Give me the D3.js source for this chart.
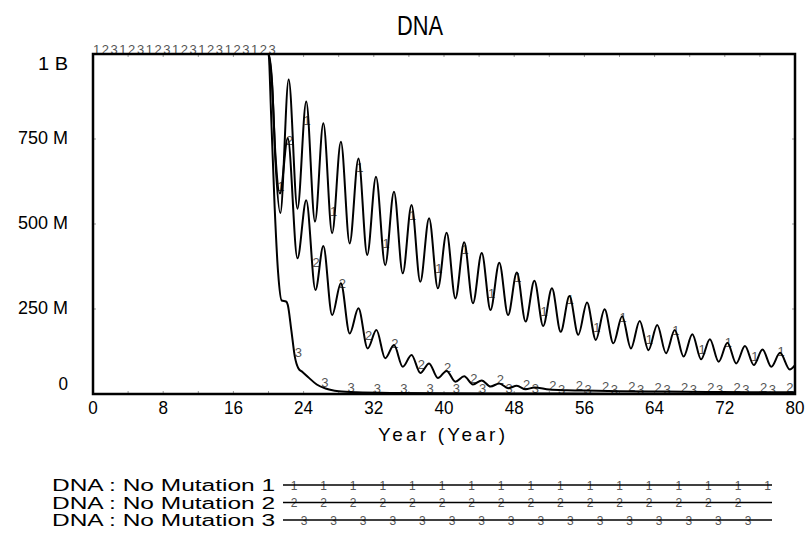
<!DOCTYPE html>
<html>
<head>
<meta charset="utf-8">
<script src="https://cdn.jsdelivr.net/npm/d3@7/dist/d3.min.js"></script>
<style>
  body { margin: 0; background: #fff; }
  text { font-family: "Liberation Sans", Arial, sans-serif; fill: #000; }
</style>
</head>
<body>
<div id="chart"></div>
<script>
// values are in millions
var years1 = [0, 20, 20.4, 20.8, 21.35, 22.3, 23.3, 24.3, 25.3, 26.25, 27.25, 28.25, 29.25, 30.25, 31.25, 32.25,
  33.3, 34.3, 35.3, 36.3, 37.3, 38.3, 39.3, 40.3, 41.3, 42.3, 43.3, 44.3, 45.3, 46.3, 47.3, 48.3, 49.3, 50.3,
  51.3, 52.3, 53.3, 54.3, 55.3, 56.3, 57.3, 58.3, 59.3, 60.3, 61.3, 62.3, 63.3, 64.3, 65.3, 66.3, 67.3, 68.3,
  69.3, 70.3, 71.3, 72.3, 73.3, 74.3, 75.3, 76.3, 77.3, 78.3, 79.4, 80];
var dna1 = [1000, 1000, 920, 680, 532, 925, 545, 860, 507, 796, 473, 742, 443, 693, 409, 639,
  379, 595, 355, 556, 330, 517, 311, 474, 281, 446, 267, 415, 247, 386, 232, 357, 213, 333,
  200, 311, 183, 288, 174, 269, 159, 249, 149, 229, 134, 215, 129, 203, 120, 188, 110, 176,
  102, 161, 95, 151, 90, 141, 85, 131, 80, 121, 72, 85];

var years2 = [0, 20, 20.4, 20.8, 21.3, 22.2, 23.3, 24.3, 25.35, 26.25, 27.25, 28.25, 29.25, 30.25, 31.3, 32.3,
  33.3, 34.3, 35.3, 36.3, 37.3, 38.3, 39.3, 40.3, 41.3, 42.3, 43.3, 44.3, 45.3, 46.3, 47.3, 48.3, 49.3, 50.3,
  52, 54, 56, 60, 65, 70, 75, 80];
var dna2 = [1000, 1000, 910, 700, 590, 752, 399, 570, 306, 435, 232, 326, 178, 252, 134, 188,
  105, 144, 80, 115, 62, 90, 47, 68, 36, 52, 28, 40, 22, 31, 17, 24, 14, 19,
  13, 11, 10, 8, 7, 6, 5, 5];

var years3 = [0, 20, 20.3, 20.7, 21.1, 21.5, 22.0, 22.2, 22.6, 23.0, 23.4, 23.9, 24.5, 25.5, 26.5, 28, 30, 35, 40, 50, 60, 80];
var dna3 = [1000, 1000, 820, 550, 355, 275, 272, 262, 188, 110, 76, 64, 50, 28, 16, 8, 5, 3, 2, 1.5, 1, 1];

var seriesNames = ['DNA : No Mutation 1', 'DNA : No Mutation 2', 'DNA : No Mutation 3'];
var xTicks = [0, 8, 16, 24, 32, 40, 48, 56, 64, 72, 80];
var yTicks = [0, 250, 500, 750, 1000];
var yTickLabels = ['0', '250 M', '500 M', '750 M', '1 B'];

var svgWidth = 808, svgHeight = 539;
var plot = {left: 93, right: 795, top: 54, bottom: 394};

var svg = d3.select('#chart').append('svg')
  .attr('width', svgWidth)
  .attr('height', svgHeight);

var x = d3.scaleLinear().domain([0, 80]).range([plot.left, plot.right]);
var y = d3.scaleLinear().domain([0, 1000]).range([plot.bottom, plot.top]);

// title (narrow, like the original bitmap font)
svg.append('text')
  .attr('x', 420).attr('y', 35)
  .attr('text-anchor', 'middle')
  .attr('textLength', 46)
  .attr('lengthAdjust', 'spacingAndGlyphs')
  .style('font-size', '28px')
  .text('DNA');

// x tick labels
svg.append('g').selectAll('text')
  .data(xTicks)
  .enter().append('text')
  .attr('x', d => x(d))
  .attr('y', 414)
  .attr('text-anchor', 'middle')
  .attr('textLength', d => String(d).length * 9.5)
  .attr('lengthAdjust', 'spacingAndGlyphs')
  .style('font-size', '19px')
  .text(d => d);

// y tick labels, top and bottom pulled inside like the original
svg.append('g').selectAll('text')
  .data(yTicks)
  .enter().append('text')
  .attr('x', 68)
  .attr('y', d => y(d) + 7 + (d == 1000 ? 9 : d == 0 ? -11 : -2))
  .attr('text-anchor', 'end')
  .attr('textLength', (d, i) => yTickLabels[i].length == 1 ? 9.5 : yTickLabels[i].length * 10)
  .attr('lengthAdjust', 'spacingAndGlyphs')
  .style('font-size', '19px')
  .text((d, i) => yTickLabels[i]);

svg.append('text')
  .attr('x', 378).attr('y', 441)
  .attr('textLength', 127)
  .style('font-size', '19px')
  .text('Year (Year)');

// small inner ticks
var tickG = svg.append('g').attr('stroke', '#999').attr('stroke-width', 1);
d3.range(4, 80, 4).forEach(function(t) {
  tickG.append('line').attr('x1', x(t)).attr('x2', x(t)).attr('y1', plot.top).attr('y2', plot.top + 3);
  tickG.append('line').attr('x1', x(t)).attr('x2', x(t)).attr('y1', plot.bottom).attr('y2', plot.bottom - 3);
});
[250, 500, 750].forEach(function(v) {
  tickG.append('line').attr('x1', plot.left).attr('x2', plot.left + 3).attr('y1', y(v)).attr('y2', y(v));
  tickG.append('line').attr('x1', plot.right).attr('x2', plot.right - 3).attr('y1', y(v)).attr('y2', y(v));
});

var line = d3.line()
  .x(d => x(d[0]))
  .y(d => y(d[1]))
  .curve(d3.curveMonotoneX);

var series = [
  d3.zip(years1, dna1),
  d3.zip(years2, dna2),
  d3.zip(years3, dna3)
];

var markG = svg.append('g');
var lineG = svg.append('g');

function pointAtX(node, px) {
  var lo = 0, hi = node.getTotalLength();
  for (var k = 0; k < 40; k++) {
    var mid = (lo + hi) / 2;
    if (node.getPointAtLength(mid).x < px) lo = mid; else hi = mid;
  }
  return node.getPointAtLength(hi);
}

series.forEach(function(s, i) {
  var path = lineG.append('path')
    .datum(s)
    .attr('fill', 'none')
    .attr('stroke', '#000')
    .attr('stroke-width', 2)
    .attr('d', line);
  // number markers every third year, each run shifted by one year
  d3.range(i, 80, 3).forEach(function(t) {
    var p = pointAtX(path.node(), x(t));
    markG.append('text')
      .attr('x', p.x).attr('y', p.y)
      .style('font-size', '13px')
      .style('fill', '#555')
      .text(i + 1);
  });
});

// frame
svg.append('rect')
  .attr('x', plot.left).attr('y', plot.top)
  .attr('width', plot.right - plot.left)
  .attr('height', plot.bottom - plot.top)
  .attr('fill', 'none')
  .attr('stroke', '#000')
  .attr('stroke-width', 2.5);

// legend
var legendY = [485, 502.5, 520];
var legendMarkStart = [294, 294, 304];
var legendMarkCount = [17, 16, 16];
seriesNames.forEach(function(name, i) {
  var ly = legendY[i];
  svg.append('text')
    .attr('x', 52).attr('y', ly + 6)
    .attr('textLength', 223)
    .attr('lengthAdjust', 'spacingAndGlyphs')
    .style('font-size', '16px')
    .text(name);
  d3.range(legendMarkCount[i]).forEach(function(k) {
    svg.append('text')
      .attr('x', legendMarkStart[i] + k * 29.6).attr('y', ly + 4.5)
      .attr('text-anchor', 'middle')
      .style('font-size', '12px')
      .style('fill', '#555')
      .text(i + 1);
  });
  svg.append('line')
    .attr('x1', 283).attr('x2', 772)
    .attr('y1', ly).attr('y2', ly)
    .attr('stroke', '#000')
    .attr('stroke-width', 1.5);
});
</script>
</body>
</html>
